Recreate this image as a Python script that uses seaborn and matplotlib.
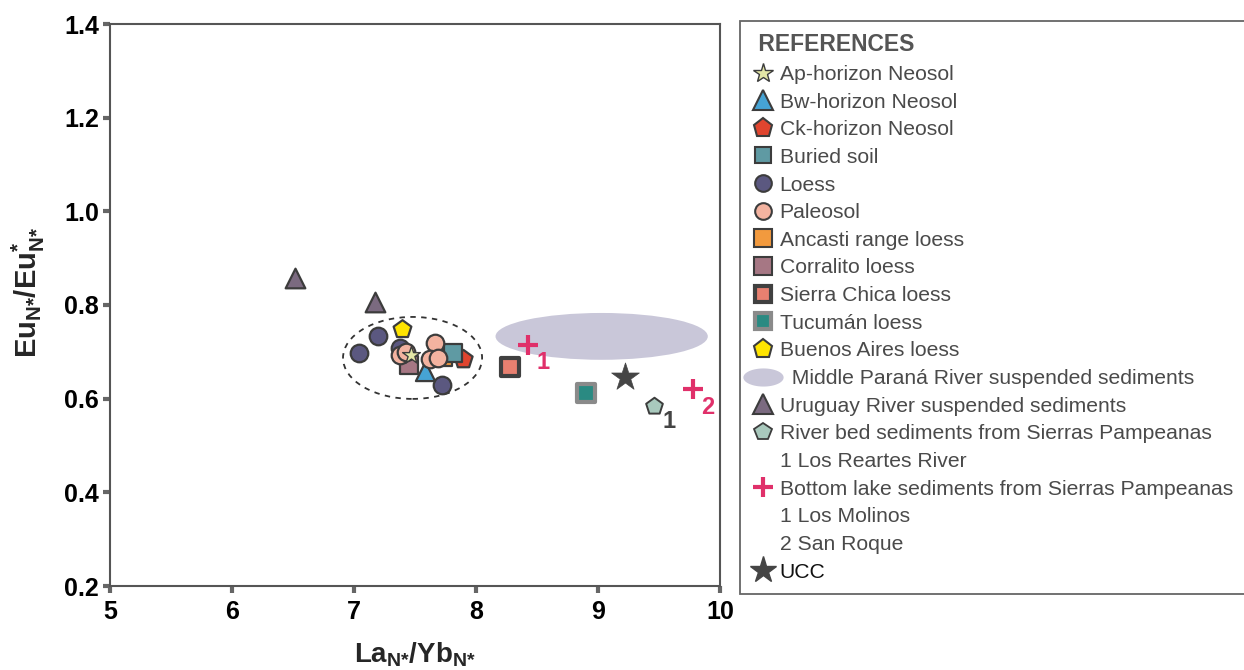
import matplotlib
matplotlib.use("Agg")
import matplotlib.pyplot as plt
import seaborn as sns
import numpy as np
from matplotlib.patches import Ellipse
from matplotlib.lines import Line2D
from matplotlib.path import Path

# ---------------- data ----------------
loess_x = [7.04, 7.20, 7.38, 7.72]
loess_y = [0.698, 0.734, 0.708, 0.629]
paleosol_x = [7.38, 7.43, 7.66, 7.62, 7.69]
paleosol_y = [0.693, 0.700, 0.718, 0.684, 0.687]
ap_x, ap_y = [7.47], [0.693]
bw_x, bw_y = [7.58], [0.660]
ck_x, ck_y = [7.89], [0.685]
buried_x, buried_y = [7.81], [0.698]
ancasti_x, ancasti_y = [7.73], [0.690]
corralito_x, corralito_y = [7.45], [0.672]
sierra_x, sierra_y = [8.28], [0.668]
tucuman_x, tucuman_y = [8.90], [0.612]
bsas_x, bsas_y = [7.39], [0.749]
uruguay_x = [6.52, 7.17]
uruguay_y = [0.857, 0.806]
riverbed_x, riverbed_y = [9.46], [0.584]
lake_x = [8.43, 9.78]
lake_y = [0.715, 0.620]
lake_labels = ["1", "2"]
ucc_x, ucc_y = [9.22], [0.646]
parana_center, parana_w, parana_h = (9.03, 0.733), 1.74, 0.10
cluster_center, cluster_w, cluster_h = (7.48, 0.687), 1.14, 0.175

xticks = [5, 6, 7, 8, 9, 10]
yticks = [0.2, 0.4, 0.6, 0.8, 1.0, 1.2, 1.4]

# ---------------- style ----------------
sns.set_theme(style="white")
plt.rcParams['font.family'] = ['Liberation Sans', 'DejaVu Sans']
plt.rcParams['mathtext.default'] = 'bf'
plt.rcParams['mathtext.fontset'] = 'custom'
plt.rcParams['mathtext.bf'] = 'Liberation Sans:bold'
plt.rcParams['mathtext.rm'] = 'Liberation Sans'

fig = plt.figure(figsize=(12.44, 6.70), dpi=100)
ax = fig.add_axes([110/1244, 1-586/670, 610/1244, 562/670])

EDGE = '#3c3c3c'

ax.add_patch(Ellipse(parana_center, parana_w, parana_h, facecolor='#c9c7d9',
                     edgecolor='none', zorder=1))
ax.add_patch(Ellipse(cluster_center, cluster_w, cluster_h, facecolor='none',
                     edgecolor='#333333', linestyle=(0, (3, 3)), lw=1.3, zorder=2))

def sc(x, y, marker, color, size, ec=EDGE, lw=1.6, z=3):
    sns.scatterplot(x=x, y=y, marker=marker, color=color, s=size, edgecolor=ec,
                    linewidth=lw, ax=ax, zorder=z, legend=False)

sc(uruguay_x, uruguay_y, '^', '#7b6a80', 200)
sc(loess_x, loess_y, 'o', '#5b5880', 160)
sc(bsas_x, bsas_y, 'p', '#ffe400', 180)
sc(corralito_x, corralito_y, 's', '#a67784', 160)
sc(bw_x, bw_y, '^', '#46a3d4', 190)
sc(ck_x, ck_y, 'p', '#e0452f', 190)
sc(ancasti_x, ancasti_y, 's', '#f29a3e', 160)
sc(buried_x, buried_y, 's', '#5f9aa3', 180)
sc(paleosol_x, paleosol_y, 'o', '#f3b3a0', 160)
sc(ap_x, ap_y, '*', '#e3e6a6', 180, lw=1.0)
sc(sierra_x, sierra_y, 's', '#e88070', 180, ec='#404040', lw=3)
sc(tucuman_x, tucuman_y, 's', '#2a8a82', 180, ec='#8a8a8a', lw=3)
sc(riverbed_x, riverbed_y, 'p', '#a9c9bd', 160, lw=1.4)
sns.scatterplot(x=ucc_x, y=ucc_y, marker='*', color='#454545', s=440,
                edgecolor='#454545', linewidth=0.5, ax=ax, zorder=4, legend=False)
sns.scatterplot(x=lake_x, y=lake_y, marker='+', color='#e0306a', s=220,
                linewidth=3, ax=ax, zorder=4, legend=False)

for x, y, t in zip(lake_x, lake_y, lake_labels):
    ax.annotate(t, (x, y), xytext=(6, -13), textcoords='offset points',
                color='#e0306a', fontsize=17, fontweight='bold', ha='left', va='center')
ax.annotate("1", (riverbed_x[0], riverbed_y[0]), xytext=(6, -11), textcoords='offset points',
            color='#444444', fontsize=17, fontweight='bold', ha='left', va='center')

ax.set_xlim(5, 10)
ax.set_ylim(0.2, 1.4)
ax.set_xticks(xticks)
ax.set_yticks(yticks)
ax.set_xticklabels([str(v) for v in xticks], fontsize=18, fontweight='bold')
ax.set_yticklabels([f"{v:.1f}" for v in yticks], fontsize=18, fontweight='bold')
ax.tick_params(axis='both', which='major', bottom=True, left=True, direction='out',
               length=5, width=3, color='#666666', labelcolor='black')
ax.tick_params(axis='x', pad=5)
ax.tick_params(axis='y', pad=3)
for s in ax.spines.values():
    s.set_visible(True)
    s.set_color('#555555')
    s.set_linewidth(1.5)

ax.set_xlabel('La$_{N{*}}$/Yb$_{N{*}}$', fontsize=20, fontweight='bold', labelpad=12)
ax.set_ylabel('Eu$_{N{*}}$/Eu$_{N{*}}^{*}$', fontsize=21, fontweight='bold')
ax.yaxis.set_label_coords(-0.104, 0.522)

# ---------------- legend ----------------
t = np.linspace(0, 2*np.pi, 60)
ell_path = Path(np.column_stack([np.cos(t), 0.45*np.sin(t)]))

def mk(marker, color, ms, ec=EDGE, mew=1.5):
    return Line2D([], [], linestyle='none', marker=marker, markerfacecolor=color,
                  markeredgecolor=ec, markersize=ms, markeredgewidth=mew)

blank = Line2D([], [], linestyle='none')
handles = [
    mk('*', '#e3e6a6', 15, mew=1.0),
    mk('^', '#46a3d4', 15),
    mk('p', '#e0452f', 14),
    mk('s', '#5f9aa3', 12),
    mk('o', '#5b5880', 12),
    mk('o', '#f3b3a0', 12),
    mk('s', '#f29a3e', 13),
    mk('s', '#a67784', 13),
    mk('s', '#e88070', 12, ec='#404040', mew=3),
    mk('s', '#2a8a82', 12, ec='#8a8a8a', mew=3),
    mk('p', '#ffe400', 14),
    Line2D([], [], linestyle='none', marker=ell_path, markerfacecolor='#c9c7d9',
           markeredgecolor='none', markersize=29),
    mk('^', '#7b6a80', 15),
    mk('p', '#a9c9bd', 13, mew=1.3),
    blank,
    Line2D([], [], linestyle='none', marker='+', markeredgecolor='#e0306a',
           markersize=15, markeredgewidth=3),
    blank, blank,
    Line2D([], [], linestyle='none', marker='*', markerfacecolor='#454545',
           markeredgecolor='#454545', markersize=20),
]
labels = [
    'Ap-horizon Neosol', 'Bw-horizon Neosol', 'Ck-horizon Neosol', 'Buried soil',
    'Loess', 'Paleosol', 'Ancasti range loess', 'Corralito loess',
    'Sierra Chica loess', 'Tucumán loess', 'Buenos Aires loess',
    '  Middle Paraná River suspended sediments', 'Uruguay River suspended sediments',
    'River bed sediments from Sierras Pampeanas', '1 Los Reartes River',
    'Bottom lake sediments from Sierras Pampeanas', '1 Los Molinos', '2 San Roque', 'UCC',
]
leg = fig.legend(handles, labels, loc='upper left',
                 bbox_to_anchor=(740/1244, 1-21/670), bbox_transform=fig.transFigure,
                 title=' REFERENCES', title_fontproperties={'size': 16.5, 'weight': 'bold'},
                 fontsize=15.2, frameon=True, fancybox=False, framealpha=1,
                 edgecolor='#666666', handlelength=1.05, handletextpad=0.25,
                 labelspacing=0.41, borderpad=0.58, borderaxespad=0,
                 alignment='left', labelcolor='#4a4a4a')
leg.get_title().set_color('#555555')
leg.get_frame().set_linewidth(1.3)
leg.get_texts()[-1].set_color('#111111')

fig.savefig('out.png', dpi=100)
